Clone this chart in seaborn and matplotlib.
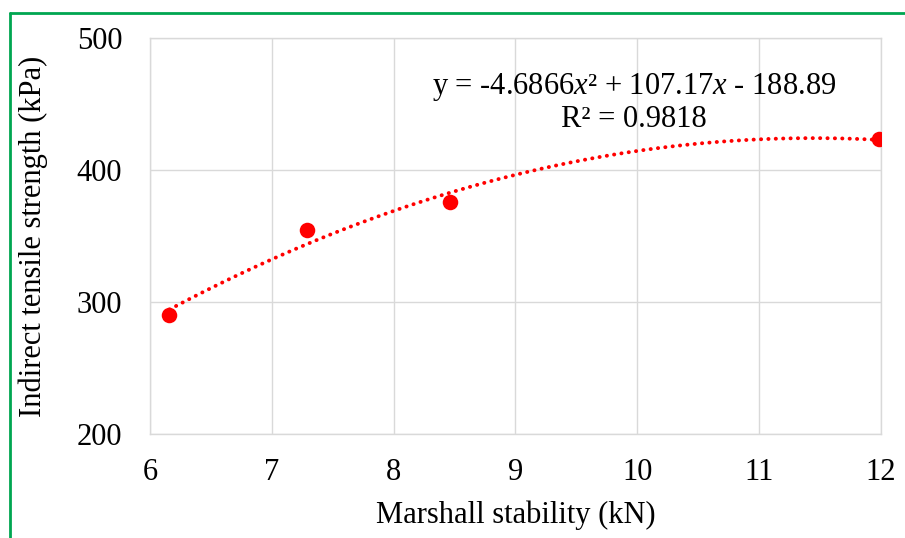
import numpy as np
import pandas as pd
import matplotlib
matplotlib.use("Agg")
import matplotlib.pyplot as plt
from matplotlib.lines import Line2D
import seaborn as sns

# values
stability = [6.16, 7.29, 8.46, 11.98]
strength = [290.0, 354.5, 375.8, 423.5]
x_ticks = [6, 7, 8, 9, 10, 11, 12]
y_ticks = [200, 300, 400, 500]
eq_label = "y = -4.6866$x$\u00b2 + 107.17$x$ - 188.89\nR\u00b2 = 0.9818"

df = pd.DataFrame({"stability": stability, "strength": strength})

sns.set_style("white")
plt.rcParams["font.family"] = ["Liberation Serif", "DejaVu Serif"]
plt.rcParams["mathtext.fontset"] = "custom"
plt.rcParams["mathtext.rm"] = "Liberation Serif"
plt.rcParams["mathtext.it"] = "Liberation Serif:italic"
plt.rcParams["text.color"] = "black"
plt.rcParams["axes.labelcolor"] = "black"

fig = plt.figure(figsize=(9.05, 5.38), dpi=100)
ax = fig.add_axes([150 / 905, 1 - 434 / 538, 731 / 905, 396 / 538])

sns.regplot(data=df, x="stability", y="strength", order=2, ci=None, ax=ax,
            color="#ff0000",
            scatter_kws={"s": 125, "alpha": 1, "zorder": 3, "linewidths": 0},
            line_kws={"linestyle": (0, (0.05, 1.85)), "linewidth": 2.8,
                      "dash_capstyle": "round", "zorder": 2})

ax.set_xlim(6, 12)
ax.set_ylim(200, 500)
ax.set_xticks(x_ticks)
ax.set_yticks(y_ticks)
ax.grid(True, color="#d9d9d9", linewidth=1)
ax.set_axisbelow(True)
for s in ax.spines.values():
    s.set_color("#d9d9d9")
    s.set_linewidth(1)
ax.tick_params(axis="both", length=0, labelsize=22, colors="#000000")
ax.tick_params(axis="y", pad=20)
ax.tick_params(axis="x", pad=17)

ax.set_xlabel("Marshall stability (kN)", fontsize=22)
ax.set_ylabel("Indirect tensile strength (kPa)", fontsize=22)
ax.xaxis.set_label_coords(0.5, -0.205)
ax.yaxis.set_label_coords(-0.16, 0.5)
ax.xaxis.label.set_va("center")
ax.yaxis.label.set_va("center")

ax.text(9.97, 451, eq_label, ha="center", va="center", fontsize=22,
        linespacing=1.1)

# green frame (left and top edges visible)
green = "#00a651"
fig.add_artist(Line2D([10 / 905, 10 / 905], [0, 1 - 13 / 538],
                      color=green, linewidth=2, transform=fig.transFigure))
fig.add_artist(Line2D([10 / 905, 1], [1 - 13 / 538, 1 - 13 / 538],
                      color=green, linewidth=2, transform=fig.transFigure))

fig.savefig("out.png", dpi=100)
